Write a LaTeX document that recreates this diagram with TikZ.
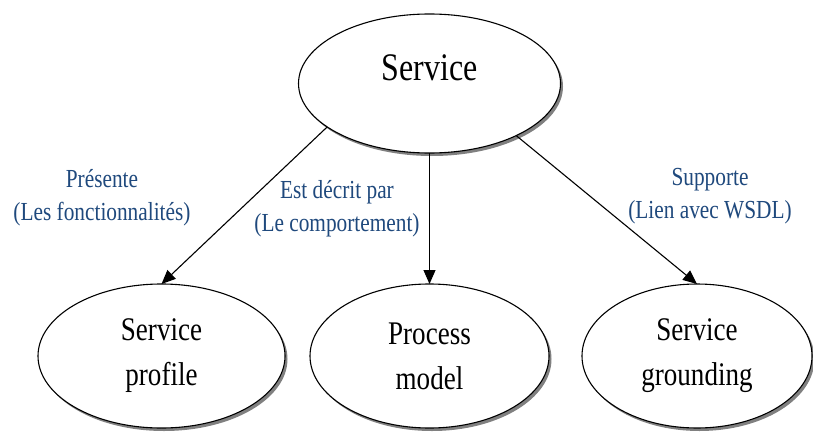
\documentclass[tikz,border=0pt]{standalone}
\usepackage{fontspec}
\setmainfont[FakeStretch=0.82]{Liberation Serif}
\usetikzlibrary{shapes.geometric,shadows,arrows.meta}
\definecolor{lblblue}{HTML}{1F497D}
\tikzset{
  ell/.style={ellipse, draw=black, line width=1.1pt, fill=white, outer sep=0pt, inner sep=0pt,
    drop shadow={shadow xshift=2.5pt, shadow yshift=-3pt, fill=black!50, opacity=1},
    align=center, font=\fontsize{33}{45}\selectfont},
  lbl/.style={text=lblblue, align=center, font=\fontsize{26}{33}\selectfont},
  conn/.style={line width=1.1pt, -{Triangle[length=14pt,width=12pt]}}
}
\begin{document}
\begin{tikzpicture}[x=1pt,y=1pt]
\useasboundingbox (0,0) rectangle (813,432);
\fill[white] (0,0) rectangle (813,432);
\node[ell, minimum width=262pt, minimum height=139pt, font=\fontsize{39}{45}\selectfont] (top) at (429.5,348.5) {\raisebox{3pt}[0pt][0pt]{Service}};
\node[ell, minimum width=247pt, minimum height=144pt] (left) at (161.5,76) {Service\\profile};
\node[ell, minimum width=239pt, minimum height=144pt] (mid) at (429.5,76) {Process\\model};
\node[ell, minimum width=230pt, minimum height=144pt] (right) at (697,76) {Service\\grounding};
\draw[conn] (top.203.3) -- (left.north);
\draw[conn] (top.south) -- (mid.north);
\draw[conn] (top.329.9) -- (right.north);
\node[lbl] (l1) at (102,234) {Présente\\(Les fonctionnalités)};
\node[lbl] (l2) at (337,223) {Est décrit par\\(Le comportement)};
\node[lbl] (l3) at (710,236) {Supporte\\(Lien avec WSDL)};
\end{tikzpicture}
\end{document}
